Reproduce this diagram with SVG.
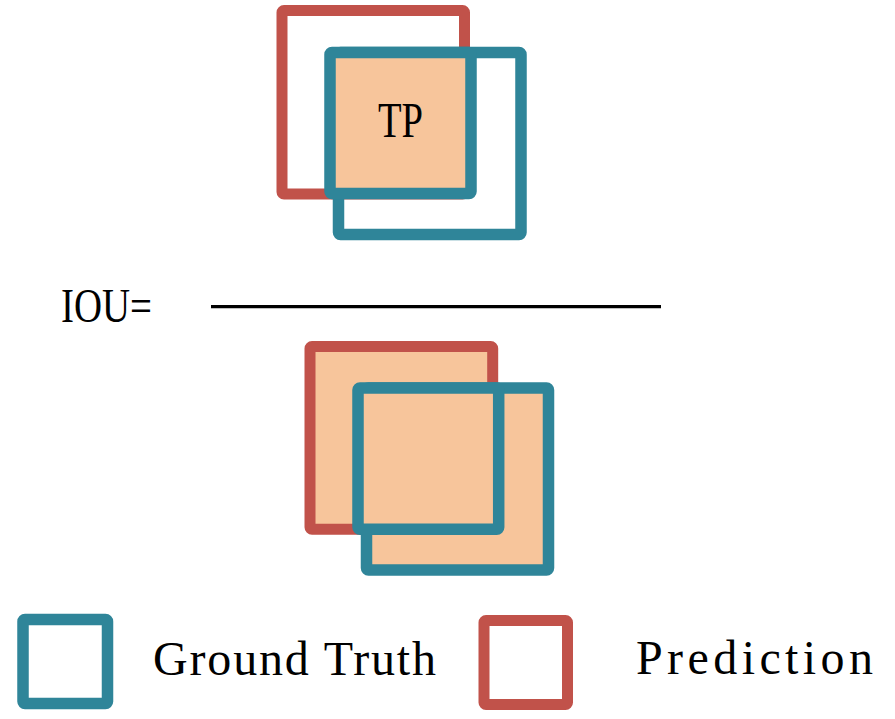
<svg xmlns="http://www.w3.org/2000/svg" width="895" height="719" viewBox="0 0 895 719">
<style>
.pred{fill:none;stroke:#C1524A;stroke-width:11;stroke-linejoin:round}
.gt{fill:none;stroke:#2F8599;stroke-width:11.5;stroke-linejoin:round}
.fill{fill:#F7C59B}
.t{font-family:"Liberation Serif","Times New Roman",serif;fill:#000}
</style>
<rect width="895" height="719" fill="#fff"/>
<g id="numerator">
<rect class="pred" x="282" y="10.5" width="182.5" height="183.5" rx="2"/>
<rect class="gt" x="338.5" y="52.5" width="182.5" height="182" rx="2"/>
<rect class="gt fill" x="330" y="52.5" width="141" height="141" rx="2"/>
<text class="t" x="378" y="137" font-size="50" textLength="45" lengthAdjust="spacingAndGlyphs">TP</text>
</g>
<g id="formula">
<text class="t" x="61" y="321.7" font-size="49" textLength="91" lengthAdjust="spacingAndGlyphs">IOU=</text>
</g>
<g id="connectors">
<line x1="211" y1="306.7" x2="661" y2="306.7" stroke="#000" stroke-width="3.2"/>
</g>
<g id="denominator">
<rect class="pred fill" x="310" y="346.5" width="182.7" height="182.8" rx="2"/>
<rect class="gt fill" x="366.5" y="388" width="182" height="182" rx="2"/>
<rect class="gt fill" x="358" y="388" width="140.7" height="141.3" rx="2"/>
</g>
<g id="legend-gt">
<rect class="gt" x="23" y="619.5" width="84.5" height="84" rx="2"/>
<text class="t" x="153" y="675" font-size="48" textLength="283" lengthAdjust="spacing">Ground Truth</text>
</g>
<g id="legend-pred">
<rect class="pred" x="484" y="620.5" width="83.5" height="84" rx="2"/>
<text class="t" x="636" y="674" font-size="48" textLength="237" lengthAdjust="spacing">Prediction</text>
</g>
</svg>
